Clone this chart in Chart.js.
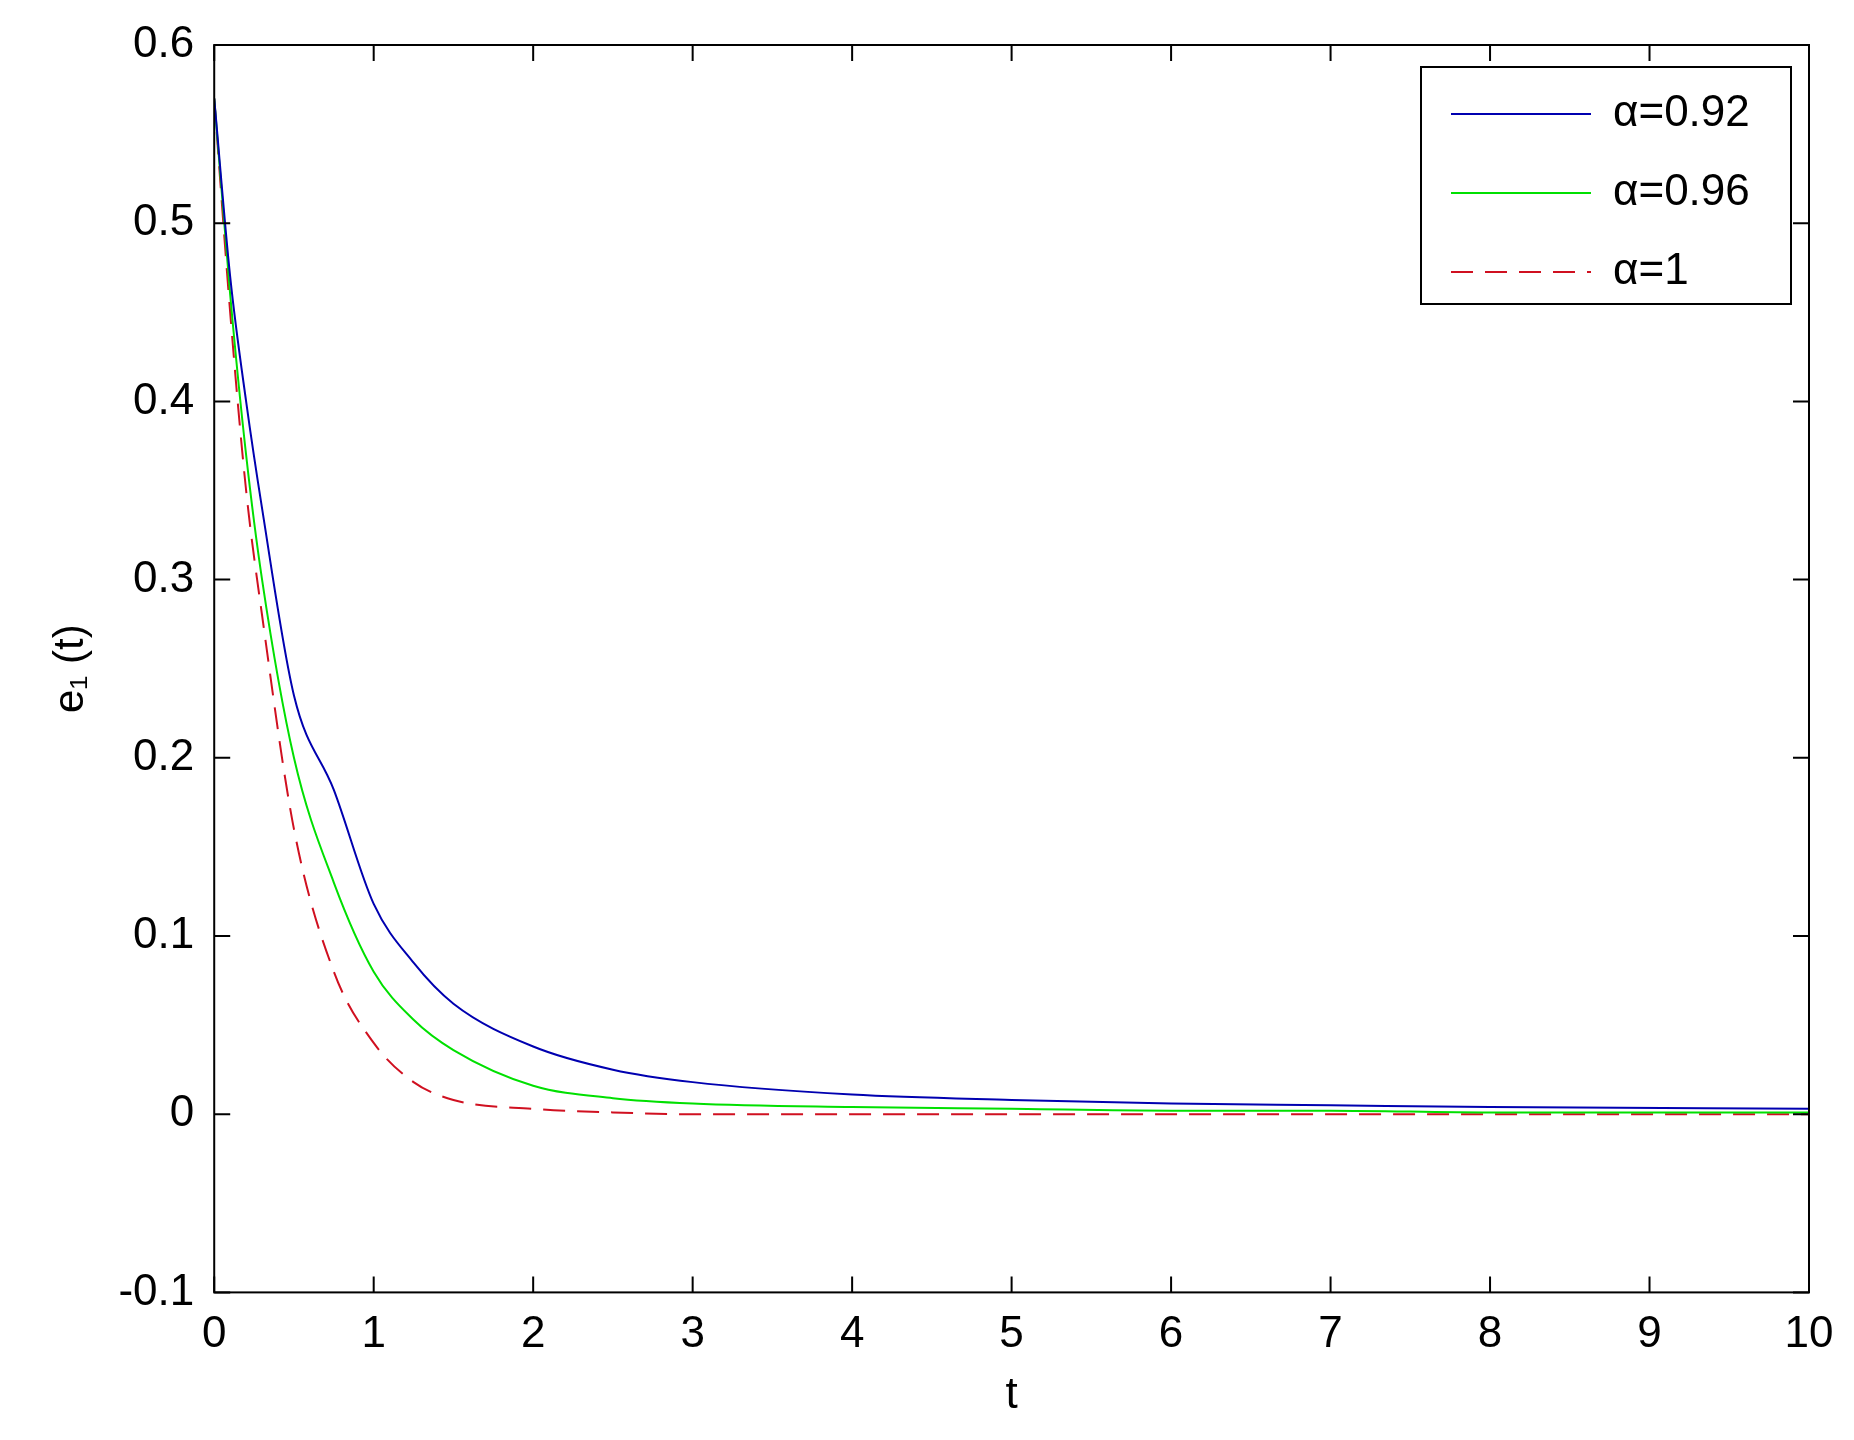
<!DOCTYPE html>
<html>
<head>
<meta charset="utf-8">
<script src="https://cdn.jsdelivr.net/npm/chart.js@4"></script>
<style>
  html, body { margin: 0; padding: 0; background: #fff; }
  #wrap { width: 1854px; height: 1440px; position: relative; }
</style>
</head>
<body>
<div id="wrap"><canvas id="chart"></canvas></div>
<script>
// Data
const tValues = [0, 0.1, 0.2, 0.3, 0.5, 0.75, 1, 1.25, 1.5, 2, 2.5, 3, 4, 5, 6, 7, 8, 10];
const e1Alpha092 = [0.57, 0.47, 0.40, 0.34, 0.235, 0.182, 0.118, 0.085, 0.062, 0.038, 0.025, 0.018, 0.011, 0.008, 0.006, 0.005, 0.004, 0.003];
const e1Alpha096 = [0.57, 0.46, 0.37, 0.30, 0.20, 0.13, 0.08, 0.053, 0.036, 0.016, 0.009, 0.006, 0.004, 0.003, 0.002, 0.002, 0.001, 0.001];
const e1Alpha1 = [0.57, 0.45, 0.35, 0.28, 0.16, 0.08, 0.04, 0.018, 0.008, 0.003, 0.001, 0, 0, 0, 0, 0, 0, 0];
const seriesLabels = ["α=0.92", "α=0.96", "α=1"];
const xTicks = [0, 1, 2, 3, 4, 5, 6, 7, 8, 9, 10];
const yTicks = [-0.1, 0, 0.1, 0.2, 0.3, 0.4, 0.5, 0.6];

const toPoints = (ys) => tValues.map((t, i) => ({ x: t, y: ys[i] }));
const FONT = "'Liberation Sans', Arial, sans-serif";

// Inward ticks on all four sides, box frame and the legend
const framePlugin = {
  id: "frame",
  afterDraw(chart) {
    const { ctx, chartArea: a, scales } = chart;
    ctx.save();
    ctx.strokeStyle = "#000";
    ctx.lineWidth = 2;
    ctx.strokeRect(a.left, a.top, a.right - a.left, a.bottom - a.top);
    const len = 16;
    ctx.beginPath();
    xTicks.forEach((v) => {
      const x = scales.x.getPixelForValue(v);
      ctx.moveTo(x, a.bottom); ctx.lineTo(x, a.bottom - len);
      ctx.moveTo(x, a.top); ctx.lineTo(x, a.top + len);
    });
    yTicks.forEach((v) => {
      const y = scales.y.getPixelForValue(v);
      ctx.moveTo(a.left, y); ctx.lineTo(a.left + len, y);
      ctx.moveTo(a.right, y); ctx.lineTo(a.right - len, y);
    });
    ctx.stroke();

    // legend
    const lx = 1421, ly = 67, lw = 370, lh = 237;
    ctx.fillStyle = "#fff";
    ctx.fillRect(lx, ly, lw, lh);
    ctx.strokeRect(lx, ly, lw, lh);
    ctx.font = "44px " + FONT;
    ctx.textBaseline = "middle";
    chart.data.datasets.forEach((ds, i) => {
      const y = ly + 47 + i * 79;
      ctx.strokeStyle = ds.borderColor;
      ctx.lineWidth = 2;
      ctx.setLineDash(ds.borderDash || []);
      ctx.beginPath();
      ctx.moveTo(lx + 30, y); ctx.lineTo(lx + 170, y);
      ctx.stroke();
      ctx.setLineDash([]);
      ctx.fillStyle = "#000";
      ctx.fillText(ds.label, lx + 192, y);
    });
    ctx.restore();
  }
};

new Chart(document.getElementById("chart"), {
  type: "line",
  data: {
    datasets: [
      { label: seriesLabels[0], data: toPoints(e1Alpha092), borderColor: "#0000b0", borderWidth: 2, cubicInterpolationMode: "monotone" },
      { label: seriesLabels[1], data: toPoints(e1Alpha096), borderColor: "#00e000", borderWidth: 2, cubicInterpolationMode: "monotone" },
      { label: seriesLabels[2], data: toPoints(e1Alpha1), borderColor: "#d01020", borderWidth: 2, borderDash: [22, 12], cubicInterpolationMode: "monotone" }
    ]
  },
  options: {
    responsive: true,
    maintainAspectRatio: false,
    animation: false,
    elements: { point: { radius: 0 } },
    layout: { padding: { left: 36, right: 45, top: 45, bottom: 18 } },
    plugins: { legend: { display: false }, tooltip: { enabled: false } },
    scales: {
      x: {
        type: "linear", min: 0, max: 10,
        grid: { display: false }, border: { display: false },
        afterBuildTicks: (s) => { s.ticks = xTicks.map((v) => ({ value: v })); },
        ticks: { color: "#000", font: { family: FONT, size: 44 }, padding: 8 },
        title: { display: true, text: "t", color: "#000", font: { family: FONT, size: 44 }, padding: 0 }
      },
      y: {
        min: -0.1, max: 0.6,
        grid: { display: false }, border: { display: false },
        afterBuildTicks: (s) => { s.ticks = yTicks.map((v) => ({ value: v })); },
        ticks: { color: "#000", font: { family: FONT, size: 44 }, padding: 12,
          callback: (v) => String(Math.round(v * 10) / 10) },
        title: { display: true, text: "e₁ (t)", color: "#000", font: { family: FONT, size: 42 }, padding: 10 }
      }
    }
  },
  plugins: [framePlugin]
});
</script>
</body>
</html>
